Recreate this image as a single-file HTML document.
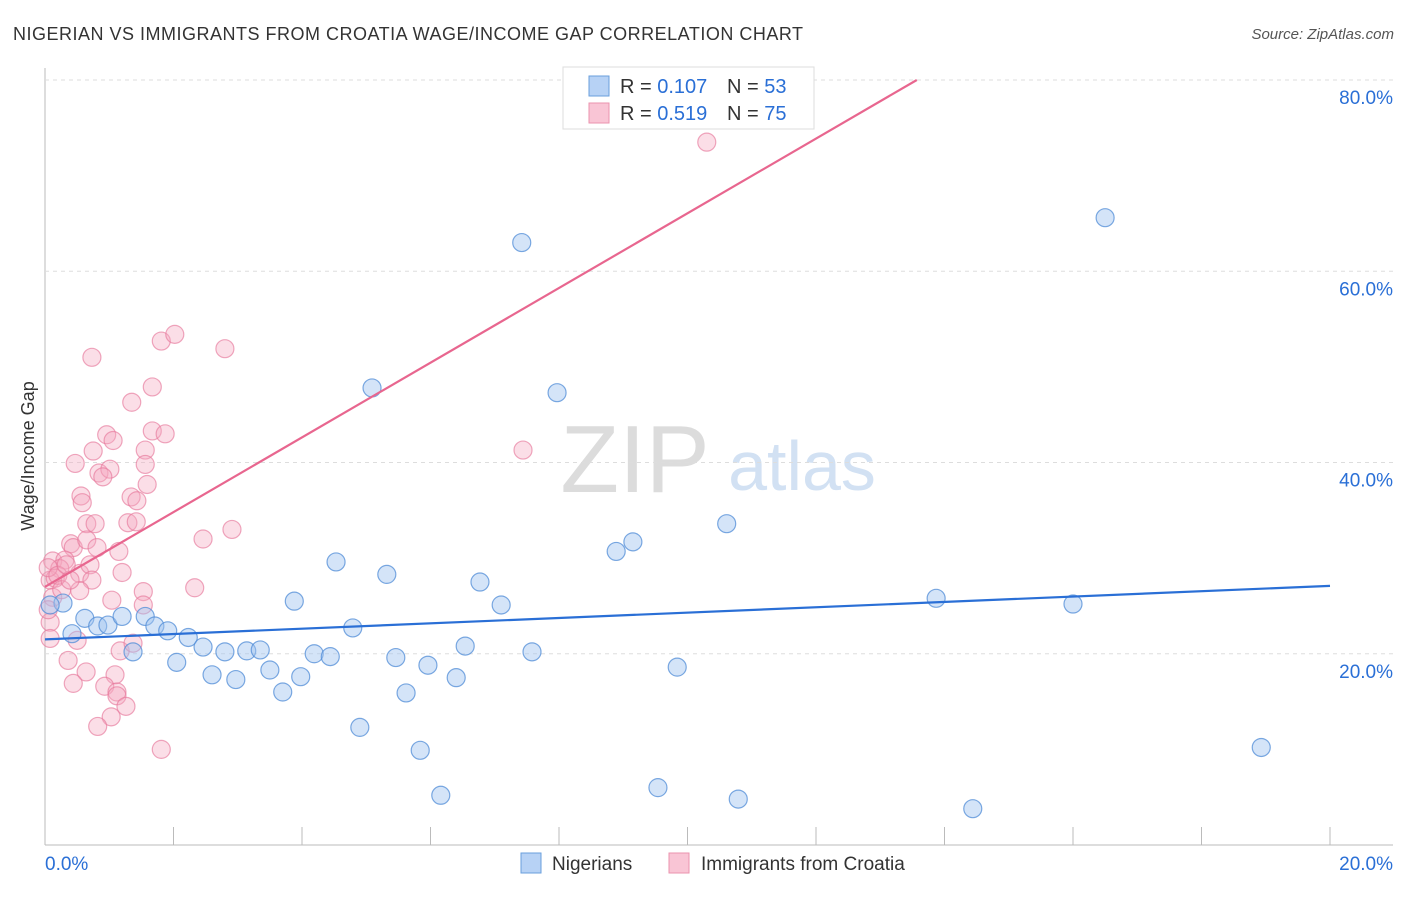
<!DOCTYPE html>
<html><head><meta charset="utf-8"><style>
body{margin:0;background:#fff;font-family:"Liberation Sans",sans-serif;}
svg text{font-family:"Liberation Sans",sans-serif;}
</style></head><body>
<svg id="c" width="1406" height="892">
<text x="13" y="40" font-size="18" fill="#333" textLength="790" lengthAdjust="spacing">NIGERIAN VS IMMIGRANTS FROM CROATIA WAGE/INCOME GAP CORRELATION CHART</text>
<text x="1394" y="39" font-size="15" fill="#555" font-style="italic" text-anchor="end">Source: ZipAtlas.com</text>
<text x="635" y="492" font-size="96" fill="#dcdcdc" font-family="Liberation Serif" text-anchor="middle">ZIP</text>
<text x="802" y="490" font-size="70" fill="#d2e1f3" text-anchor="middle">atlas</text>
<g id="grid"></g><g id="pts"></g><g id="lines"></g>
<text transform="translate(34,456) rotate(-90)" font-size="18" fill="#333" text-anchor="middle">Wage/Income Gap</text>
<g>
<rect x="563" y="67" width="251" height="62" fill="#fff" stroke="#ddd"/>
<rect x="589" y="76" width="20" height="20" fill="#b7d2f5" stroke="#6a9fdc"/>
<rect x="589" y="103" width="20" height="20" fill="#f9c5d5" stroke="#eb93ae"/>
<text x="620" y="93" font-size="20" fill="#333">R = <tspan fill="#2a6fd6">0.107</tspan></text>
<text x="727" y="93" font-size="20" fill="#333">N = <tspan fill="#2a6fd6">53</tspan></text>
<text x="620" y="120" font-size="20" fill="#333">R = <tspan fill="#2a6fd6">0.519</tspan></text>
<text x="727" y="120" font-size="20" fill="#333">N = <tspan fill="#2a6fd6">75</tspan></text>
</g>
<g>
<rect x="521" y="853" width="20" height="20" fill="#b7d2f5" stroke="#6a9fdc"/>
<text x="552" y="870" font-size="19" fill="#333">Nigerians</text>
<rect x="669" y="853" width="20" height="20" fill="#f9c5d5" stroke="#eb93ae"/>
<text x="701" y="870" font-size="19" fill="#333">Immigrants from Croatia</text>
</g>
</svg>
<script>
const xTicks=[0,20];
const yTicks=[20,40,60,80];
const blueX=[0.28,0.62,0.82,0.98,1.20,1.56,1.37,1.71,1.91,2.05,2.23,2.46,2.60,2.80,2.97,3.14,3.35,3.50,3.70,3.88,3.98,4.19,4.44,4.53,4.79,4.90,5.09,5.32,5.46,5.62,5.84,5.96,6.16,6.40,6.54,6.77,7.10,7.42,7.58,7.97,8.89,9.15,9.54,9.84,10.61,10.79,13.87,14.44,16.00,16.50,18.93,0.08,0.42];
const blueY=[25.3,23.7,22.9,23.0,23.9,23.9,20.2,22.9,22.4,19.1,21.7,20.7,17.8,20.2,17.3,20.3,20.4,18.3,16.0,25.5,17.6,20.0,19.7,29.6,22.7,12.3,47.8,28.3,19.6,15.9,9.9,18.8,5.2,17.5,20.8,27.5,25.1,63.0,20.2,47.3,30.7,31.7,6.0,18.6,33.6,4.8,25.8,3.8,25.2,65.6,10.2,25.1,22.1];
const pinkX=[0.73,1.81,2.02,2.80,1.67,1.35,0.96,1.06,0.75,1.67,1.87,1.56,1.56,0.47,0.84,1.01,0.90,1.59,0.56,0.58,1.34,1.43,0.65,0.78,1.29,1.42,2.46,2.91,0.40,0.44,0.65,0.81,1.15,0.12,0.31,0.23,0.54,0.70,1.20,0.73,0.08,0.16,0.54,2.33,1.53,1.04,1.53,0.08,0.50,1.17,1.37,0.36,0.64,0.44,1.09,0.93,1.12,1.12,1.26,1.03,0.82,1.81,0.08,0.12,10.30,7.44,0.05,0.20,0.26,0.39,0.05,0.33];
const pinkY=[51.0,52.7,53.4,51.9,47.9,46.3,42.9,42.3,41.2,43.3,43.0,41.3,39.8,39.9,38.9,39.3,38.5,37.7,36.5,35.8,36.4,36.0,33.6,33.6,33.7,33.8,32.0,33.0,31.5,31.1,31.9,31.1,30.7,29.7,29.8,28.9,28.4,29.3,28.5,27.7,27.7,27.9,26.6,26.9,26.5,25.6,25.1,23.3,21.4,20.3,21.1,19.3,18.1,16.9,17.8,16.6,16.0,15.6,14.5,13.4,12.4,10.0,21.6,25.9,73.5,41.3,29.0,28.2,26.7,27.7,24.6,29.3];
const blueTrend=[21.5,0.28]; // intercept, slope
const pinkTrend=[27.0,3.906];
const X0=45,X1=1330,Y0=845,YTOP=80;
const sx=v=>X0+(v-xTicks[0])/(xTicks[1]-xTicks[0])*(X1-X0);
const sy=v=>Y0-v/80*(Y0-YTOP);
const NS='http://www.w3.org/2000/svg';
function mk(t,a,p){const e=document.createElementNS(NS,t);for(const k in a)e.setAttribute(k,a[k]);p.appendChild(e);return e;}
const g=document.getElementById('grid');
let ax=mk('line',{x1:X0,y1:68,x2:X0,y2:Y0,stroke:'#bbb'},g);


let bx=mk('line',{x1:X0,y1:Y0,x2:1393,y2:Y0,stroke:'#bbb'},g);


for(let i=1;i<=10;i++){const x=X0+i*(X1-X0)/10;const t=mk('line',{x1:x,y1:Y0,x2:x,y2:Y0-18,stroke:'#bbb'},g);

}
yTicks.forEach(v=>{const y=sy(v);const l=mk('line',{x1:X0,y1:y,x2:1393,y2:y,stroke:'#ddd','stroke-dasharray':'4,4'},g);


const t=mk('text',{x:1393,y:y+24,'font-size':19,fill:'#2a6fd6','text-anchor':'end'},g);t.textContent=v.toFixed(1)+'%';

});
xTicks.forEach((v,i)=>{const t=mk('text',{x:i?1393:45,y:870,'font-size':19,fill:'#2a6fd6','text-anchor':i?'end':'start'},g);t.textContent=v.toFixed(1)+'%';

});
const p=document.getElementById('pts');
pinkX.forEach((x,i)=>{const c=mk('circle',{cx:sx(x),cy:sy(pinkY[i]),r:9,fill:'rgba(244,168,192,0.38)',stroke:'rgba(230,120,155,0.65)','stroke-width':1.2},p);

});
blueX.forEach((x,i)=>{const c=mk('circle',{cx:sx(x),cy:sy(blueY[i]),r:9,fill:'rgba(160,196,240,0.45)',stroke:'rgba(80,140,215,0.75)','stroke-width':1.2},p);

});
const L=document.getElementById('lines');
let xe=(80-pinkTrend[0])/pinkTrend[1];
let pl=mk('line',{x1:sx(0),y1:sy(pinkTrend[0]),x2:sx(xe),y2:sy(80),stroke:'#e8668f','stroke-width':2.2},L);


let bl=mk('line',{x1:sx(0),y1:sy(blueTrend[0]),x2:sx(20),y2:sy(blueTrend[0]+20*blueTrend[1]),stroke:'#2a6fd6','stroke-width':2.2},L);


</script>
</body></html>
